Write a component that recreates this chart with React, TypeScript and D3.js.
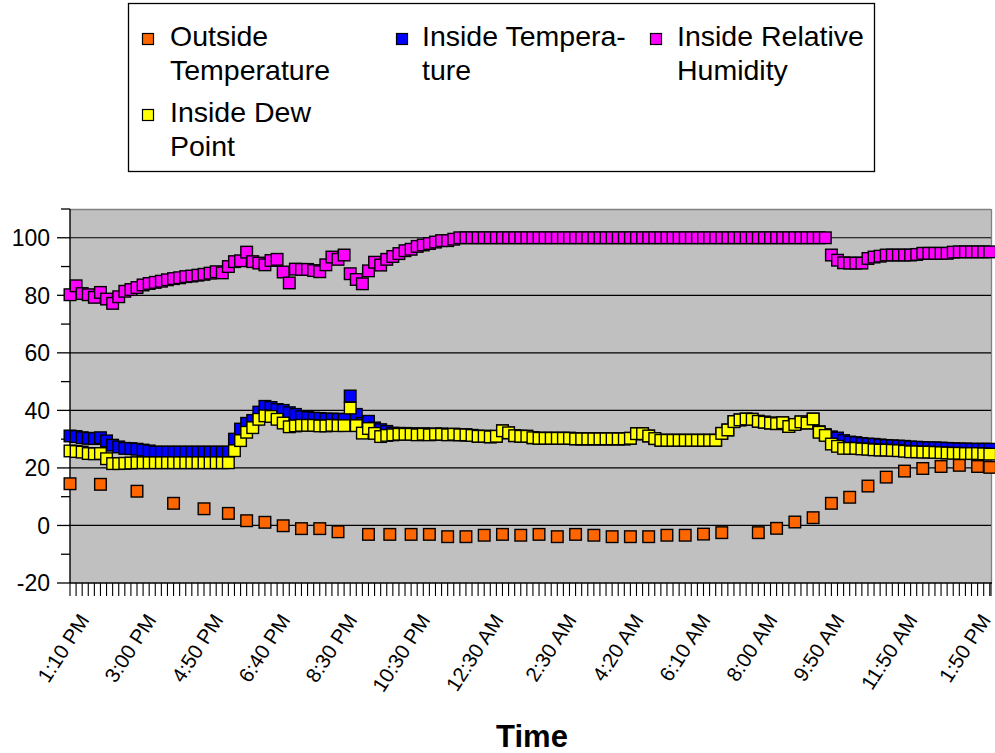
import React from 'react';
import * as d3 from 'd3';

// Sampling: every 10 minutes starting at 1:10 PM (minutes since 1:10 PM)
const STEP_MINUTES = 10;

const insideTemp = [
  31.1, 30.9, 30.5, 30.3, 30.2, 30.5, 29.4, 27.9, 27.3, 26.8,
  26.7, 26.5, 26.2, 25.9, 25.5, 25.5, 25.5, 25.5, 25.5, 25.5,
  25.5, 25.5, 25.5, 25.5, 25.5, 25.5, 25.5, 30.0, 33.5, 35.5,
  36.5, 39.4, 41.4, 41.0, 40.3, 40.0, 39.2, 38.6, 37.8, 37.5,
  37.3, 37.2, 37.0, 37.0, 36.9, 36.9, 45.0, 38.6, 35.5, 36.2,
  33.9, 33.3, 32.7, 32.1, 32.0, 32.0, 31.9, 31.7, 31.9, 31.7,
  31.8, 31.8, 31.6, 31.7, 31.5, 31.5, 31.3, 31.0, 31.0, 30.8,
  31.0, 32.9, 32.2, 31.2, 31.0, 31.0, 30.5, 30.3, 30.3, 30.3,
  30.3, 30.3, 30.3, 30.1, 30.1, 30.1, 30.1, 30.1, 30.1, 30.1,
  30.1, 30.1, 30.3, 31.9, 31.9, 31.1, 30.2, 29.6, 29.6, 29.6,
  29.6, 29.6, 29.6, 29.6, 29.6, 29.6, 29.6, 32.0, 33.2, 36.1,
  36.7, 37.0, 36.9, 36.2, 35.9, 35.6, 35.4, 35.7, 34.4, 35.1,
  36.0, 35.6, 37.0, 32.6, 31.6, 30.8, 30.4, 29.5, 29.0, 28.8,
  28.5, 28.3, 28.2, 28.0, 27.8, 27.7, 27.6, 27.5, 27.3, 27.2,
  27.1, 27.0, 27.0, 26.9, 26.8, 26.7, 26.6, 26.6, 26.5, 26.5,
  26.5, 26.5,
];

const insideRelativeHumidity = [
  80.2, 83.3, 80.6, 80.2, 79.3, 81.0, 78.7, 77.2, 79.5, 81.4,
  82.0, 82.7, 83.6, 84.1, 84.5, 84.9, 85.4, 85.8, 86.1, 86.5,
  86.7, 87.0, 87.3, 87.7, 88.2, 87.8, 90.0, 91.7, 92.0, 95.0,
  91.7, 91.2, 90.6, 92.1, 92.5, 88.1, 84.3, 89.1, 89.0, 89.0,
  88.6, 88.2, 90.6, 93.3, 92.5, 94.0, 87.5, 85.5, 84.0, 88.5,
  91.5, 90.5, 92.5, 93.5, 94.5, 95.5, 96.0, 97.0, 97.5, 98.0,
  98.5, 99.0, 99.0, 99.5, 100, 100, 100, 100, 100, 100,
  100, 100, 100, 100, 100, 100, 100, 100, 100, 100,
  100, 100, 100, 100, 100, 100, 100, 100, 100, 100,
  100, 100, 100, 100, 100, 100, 100, 100, 100, 100,
  100, 100, 100, 100, 100, 100, 100, 100, 100, 100,
  100, 100, 100, 100, 100, 100, 100, 100, 100, 100,
  100, 100, 100, 100, 100, 94.0, 92.2, 91.3, 91.2, 91.2,
  91.2, 92.8, 93.3, 93.6, 94.0, 94.0, 94.0, 94.0, 94.0, 94.2,
  94.6, 94.6, 94.6, 94.6, 94.6, 95.0, 95.1, 95.1, 95.1, 95.1,
  95.1, 95.1,
];

const insideDewPoint = [
  25.9, 25.7, 25.5, 25.0, 24.9, 25.0, 23.2, 21.5, 21.5, 21.6,
  21.7, 21.8, 21.8, 21.8, 21.8, 21.8, 21.8, 21.8, 21.8, 21.8,
  21.8, 21.8, 21.8, 21.8, 21.8, 21.8, 21.8, 26.0, 29.5, 32.4,
  34.0, 36.9, 38.1, 37.9, 36.9, 35.6, 34.3, 34.6, 34.8, 34.8,
  34.8, 34.6, 34.6, 34.8, 34.7, 34.7, 40.8, 34.7, 32.1, 33.7,
  32.0, 30.9, 31.3, 31.5, 31.7, 31.7, 31.7, 31.5, 31.7, 31.5,
  31.7, 31.7, 31.5, 31.7, 31.5, 31.5, 31.3, 31.0, 31.0, 30.8,
  31.0, 32.9, 32.2, 31.2, 31.0, 31.0, 30.5, 30.3, 30.3, 30.3,
  30.3, 30.3, 30.3, 30.1, 30.1, 30.1, 30.1, 30.1, 30.1, 30.1,
  30.1, 30.1, 30.3, 31.9, 31.9, 31.1, 30.2, 29.6, 29.6, 29.6,
  29.6, 29.6, 29.6, 29.6, 29.6, 29.6, 29.6, 32.0, 33.2, 36.1,
  36.7, 37.0, 36.9, 36.2, 35.9, 35.6, 35.4, 35.7, 34.4, 35.1,
  36.0, 35.6, 37.0, 32.4, 31.3, 28.3, 27.5, 26.8, 26.8, 26.8,
  26.6, 26.5, 26.3, 26.2, 26.2, 26.1, 26.0, 25.8, 25.6, 25.6,
  25.5, 25.5, 25.4, 25.3, 25.2, 25.1, 25.1, 25.0, 25.0, 25.0,
  24.9, 24.8,
];

// Outside temperature is recorded less often (minutes since 1:10 PM)
const outsideTimes = [
  0, 50, 110, 170, 220, 260, 290, 320, 350, 380,
  410, 440, 490, 525, 560, 590, 620, 650, 680, 710,
  740, 770, 800, 830, 860, 890, 920, 950, 980, 1010,
  1040, 1070, 1130, 1160, 1190, 1220, 1250, 1280, 1310, 1340,
  1370, 1400, 1430, 1460, 1490, 1510,
];
const outsideTemp = [
  14.5, 14.3, 11.9, 7.7, 5.8, 4.2, 1.65, 1.1, -0.1, -1.1,
  -1.1, -2.2, -3.1, -3.1, -3.1, -3.1, -3.9, -3.9, -3.4, -3.1,
  -3.4, -3.1, -3.9, -3.1, -3.4, -3.9, -3.9, -3.9, -3.4, -3.4,
  -3.0, -2.5, -2.5, -1.0, 1.2, 2.7, 7.7, 9.8, 13.7, 16.8,
  18.9, 19.8, 20.5, 20.9, 20.5, 20.2,
];

const xLabelTimes = [0, 110, 220, 330, 440, 560, 680, 800, 910, 1020, 1130, 1240, 1360, 1480];
const xLabels = [
  '1:10 PM', '3:00 PM', '4:50 PM', '6:40 PM', '8:30 PM', '10:30 PM', '12:30 AM',
  '2:30 AM', '4:20 AM', '6:10 AM', '8:00 AM', '9:50 AM', '11:50 AM', '1:50 PM',
];
const yMajorTicks = [-20, 0, 20, 40, 60, 80, 100];
const yMinorTicks = [-10, 10, 30, 50, 70, 90, 110];

const seriesColors = ['#FF6600', '#0000FF', '#FF00FF', '#FFFF00'];

const FONT = "'Liberation Sans', Arial, Helvetica, sans-serif";

export default function App() {
  const W = 995;
  const H = 753;
  const plot = { left: 70, right: 991, top: 209, bottom: 583 };
  const x = d3.scaleLinear().domain([0, 1512]).range([plot.left, plot.right]);
  const y = d3.scaleLinear().domain([-20, 110]).range([plot.bottom, plot.top]);
  const xTickTimes = d3.range(0, 1512, STEP_MINUTES);
  const M = 11.6;

  const denseSeries = [
    { values: insideTemp, color: seriesColors[1] },
    { values: insideRelativeHumidity, color: seriesColors[2] },
    { values: insideDewPoint, color: seriesColors[3] },
  ];

  const marker = (cx: number, cy: number, color: string, key: string) => (
    <rect key={key} x={cx - M / 2} y={cy - M / 2} width={M} height={M}
      fill={color} stroke="#000" strokeWidth={1.4} />
  );

  return (
    <svg width={W} height={H} style={{ position: 'absolute', left: 0, top: 0, background: '#fff' }}
      fontFamily={FONT}>
      {/* Legend */}
      <rect x={128.5} y={3.5} width={746} height={168} fill="#fff" stroke="#000" strokeWidth={1.3} />
      {[
        { mx: 148, my: 39, tx: 170, lines: ['Outside', 'Temperature'], c: 0 },
        { mx: 402, my: 39, tx: 422, lines: ['Inside Tempera-', 'ture'], c: 1 },
        { mx: 656, my: 39, tx: 677, lines: ['Inside Relative', 'Humidity'], c: 2 },
        { mx: 148, my: 115, tx: 170, lines: ['Inside Dew', 'Point'], c: 3 },
      ].map((e, k) => (
        <g key={'lg' + k}>
          <rect x={e.mx - 5.5} y={e.my - 5.5} width={11} height={11} fill={seriesColors[e.c]} stroke="#000" strokeWidth={1.2} />
          {e.lines.map((l, j) => (
            <text key={j} x={e.tx} y={e.my + 7 + j * 34} fontSize={28.5} fill="#000">{l}</text>
          ))}
        </g>
      ))}

      {/* Plot area */}
      <rect x={plot.left} y={plot.top} width={plot.right - plot.left} height={plot.bottom - plot.top} fill="#C0C0C0" />
      <line x1={plot.left} x2={plot.right} y1={plot.top + 0.5} y2={plot.top + 0.5} stroke="#808080" strokeWidth={1.3} />
      <line x1={plot.right + 0.5} x2={plot.right + 0.5} y1={plot.top} y2={plot.bottom} stroke="#808080" strokeWidth={1.3} />
      {yMajorTicks.filter(v => v > -20).map(v => (
        <line key={'g' + v} x1={plot.left} x2={plot.right} y1={y(v)} y2={y(v)} stroke="#000" strokeWidth={1.2} />
      ))}

      {/* Y axis */}
      <line x1={plot.left} x2={plot.left} y1={plot.top} y2={plot.bottom} stroke="#000" strokeWidth={1.4} />
      {yMajorTicks.map(v => (
        <g key={'yt' + v}>
          <line x1={plot.left - 13} x2={plot.left} y1={y(v)} y2={y(v)} stroke="#000" strokeWidth={1.3} />
          <text x={50} y={y(v)} dy="0.36em" textAnchor="end" fontSize={23} fill="#000">{v}</text>
        </g>
      ))}
      {yMinorTicks.map(v => (
        <line key={'ym' + v} x1={plot.left - 9} x2={plot.left} y1={y(v)} y2={y(v)} stroke="#000" strokeWidth={1.3} />
      ))}

      {/* X axis */}
      <line x1={plot.left} x2={plot.right + 1} y1={plot.bottom} y2={plot.bottom} stroke="#000" strokeWidth={1.4} />
      {xTickTimes.map(t => (
        <line key={'xt' + t} x1={x(t)} x2={x(t)} y1={plot.bottom} y2={plot.bottom + 13} stroke="#000" strokeWidth={1.1} />
      ))}
      <line x1={plot.right} x2={plot.right} y1={plot.bottom} y2={plot.bottom + 13} stroke="#000" strokeWidth={1.1} />
      {xLabelTimes.map((t, k) => (
        <text key={'xl' + k} transform={`translate(${x(t) + 20},620) rotate(-57)`} textAnchor="end"
          fontSize={20.5} fill="#000">{xLabels[k]}</text>
      ))}
      <text x={532} y={747} textAnchor="middle" fontSize={31} fontWeight="bold" fill="#000">Time</text>

      {/* Series markers */}
      <g>
        {outsideTimes.map((t, i) => marker(x(t), y(outsideTemp[i]), seriesColors[0], 'o' + i))}
      </g>
      {denseSeries.map((s, si) => (
        <g key={'s' + si}>
          {s.values.map((v, i) => marker(x(i * STEP_MINUTES), y(v), s.color, si + '-' + i))}
        </g>
      ))}
    </svg>
  );
}
